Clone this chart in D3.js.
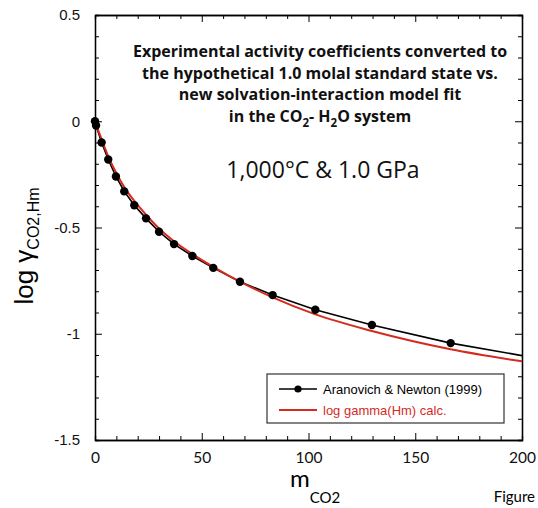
<!DOCTYPE html>
<html>
<head>
<meta charset="utf-8">
<script src="https://cdn.jsdelivr.net/npm/d3@7"></script>
<style>
  body { margin: 0; background: #fff; }
  svg { display: block; }
</style>
</head>
<body>
<svg width="538" height="508"></svg>
<script>
// Aranovich & Newton (1999), converted to 1.0 molal standard state
var anM   = [0, 0.5, 3.1, 6.2, 9.8, 13.7, 18.4, 23.9, 30, 37, 45.6, 55.4, 67.9, 83.2, 103.2, 129.7, 166.6];
var anLog = [0, -0.02, -0.10, -0.18, -0.26, -0.33, -0.395, -0.457, -0.52, -0.578, -0.634, -0.69, -0.755, -0.818, -0.887, -0.959, -1.044];
// black line carries on past the last point to the frame edge
var anLineEnd = [200, -1.103];

// model curve, log gamma(Hm) calc.
var calcM   = [0, 0.5, 3.1, 6.2, 9.8, 13.7, 18.4, 23.9, 30, 37, 45.6, 55.4, 67.9, 83.2, 103.2, 129.7, 166.6, 200];
var calcLog = [0, -0.015, -0.085, -0.165, -0.24, -0.31, -0.375, -0.44, -0.505, -0.565, -0.625, -0.685, -0.755, -0.829, -0.909, -0.987, -1.073, -1.13];

var xTicks = [0, 50, 100, 150, 200];
var yTicks = [0.5, 0, -0.5, -1, -1.5];
var titleLines = ["Experimental activity coefficients converted to",
                  "the hypothetical 1.0 molal standard state vs.",
                  "new solvation-interaction model fit"];
var legendLabels = ["Aranovich & Newton (1999)", "log gamma(Hm) calc."];

var red = "#d52b1e";

var svg = d3.select("svg"),
    margin = {top: 15, right: 16, bottom: 68, left: 95},
    width = +svg.attr("width") - margin.left - margin.right,
    height = +svg.attr("height") - margin.top - margin.bottom,
    g = svg.append("g").attr("transform", "translate(" + margin.left + "," + margin.top + ")");

var x = d3.scaleLinear().domain([0, 200]).range([0, width]);
var y = d3.scaleLinear().domain([-1.5, 0.5]).range([height, 0]);

var minorX = d3.range(0, 201, 10).filter(function(d) { return d % 50 !== 0; });
var minorY = d3.range(-15, 6, 1).map(function(d) { return d / 10; })
               .filter(function(d) { return Math.round(d * 10) % 5 !== 0; });

function styleAxis(sel) {
  sel.selectAll("path").attr("stroke", "#000").attr("stroke-width", 1.3);
  sel.selectAll("line").attr("stroke", "#000").attr("stroke-width", 1);
}

// minor ticks on all four sides
g.append("g").attr("transform", "translate(0," + height + ")")
  .call(d3.axisBottom(x).tickValues(minorX).tickSize(-4).tickFormat(""))
  .call(styleAxis);
g.append("g")
  .call(d3.axisTop(x).tickValues(minorX).tickSize(-4).tickFormat(""))
  .call(styleAxis);
g.append("g")
  .call(d3.axisLeft(y).tickValues(minorY).tickSize(-4).tickFormat(""))
  .call(styleAxis);
g.append("g").attr("transform", "translate(" + width + ",0)")
  .call(d3.axisRight(y).tickValues(minorY).tickSize(-4).tickFormat(""))
  .call(styleAxis);

// major ticks
var xAxis = g.append("g").attr("transform", "translate(0," + height + ")")
  .call(d3.axisBottom(x).tickValues(xTicks).tickSize(-7).tickSizeOuter(0).tickPadding(12))
  .call(styleAxis);
xAxis.selectAll("text").attr("font-family", "Lato, sans-serif").attr("font-size", 15.5).attr("fill", "#111");

var yAxis = g.append("g")
  .call(d3.axisLeft(y).tickValues(yTicks).tickSize(-7).tickSizeOuter(0).tickPadding(15)
        .tickFormat(function(d) { return d === 0 ? "0" : String(d); }))
  .call(styleAxis);
yAxis.selectAll("text").attr("font-family", "'Liberation Sans', Arial, sans-serif").attr("font-size", 15).attr("fill", "#111");

g.append("g")
  .call(d3.axisTop(x).tickValues(xTicks).tickSize(-7).tickSizeOuter(0).tickFormat(""))
  .call(styleAxis);
g.append("g").attr("transform", "translate(" + width + ",0)")
  .call(d3.axisRight(y).tickValues(yTicks).tickSize(-7).tickSizeOuter(0).tickFormat(""))
  .call(styleAxis);

// clip
g.append("clipPath").attr("id", "plotclip")
  .append("rect").attr("width", width).attr("height", height);

var plot = g.append("g").attr("clip-path", "url(#plotclip)");

var calcData = calcM.map(function(m, i) { return [m, calcLog[i]]; });
var anData = anM.map(function(m, i) { return [m, anLog[i]]; });

var line = d3.line()
  .x(function(d) { return x(d[0]); })
  .y(function(d) { return y(d[1]); });

plot.append("path")
  .datum(anData.concat([anLineEnd]))
  .attr("fill", "none")
  .attr("stroke", "#000")
  .attr("stroke-width", 1.6)
  .attr("d", line);

plot.append("path")
  .datum(calcData)
  .attr("fill", "none")
  .attr("stroke", red)
  .attr("stroke-width", 2)
  .attr("d", line.curve(d3.curveMonotoneX));

g.selectAll(".dot")
  .data(anData)
  .enter().append("circle")
  .attr("class", "dot")
  .attr("cx", function(d) { return x(d[0]); })
  .attr("cy", function(d) { return y(d[1]); })
  .attr("r", 4.2)
  .attr("fill", "#000");

// title
var titleFont = "'Open Sans', sans-serif";
var title = svg.append("text")
  .attr("font-family", titleFont)
  .attr("font-weight", "bold")
  .attr("font-size", 16)
  .attr("text-anchor", "middle")
  .attr("fill", "#111");
titleLines.forEach(function(t, i) {
  title.append("tspan").attr("x", 320).attr("y", 57 + i * 21.7).text(t);
});
var sys = svg.append("text")
  .attr("font-family", titleFont)
  .attr("font-weight", "bold")
  .attr("font-size", 16)
  .attr("text-anchor", "middle")
  .attr("fill", "#111")
  .attr("x", 320).attr("y", 57 + 3 * 21.7);
sys.append("tspan").text("in the CO");
sys.append("tspan").attr("font-size", 11.5).attr("dy", 5).text("2");
sys.append("tspan").attr("dy", -5).text("- H");
sys.append("tspan").attr("font-size", 11.5).attr("dy", 5).text("2");
sys.append("tspan").attr("dy", -5).text("O system");

svg.append("text")
  .attr("x", 323).attr("y", 178)
  .attr("text-anchor", "middle")
  .attr("font-family", titleFont)
  .attr("font-size", 23)
  .attr("fill", "#111")
  .text("1,000°C & 1.0 GPa");

// axis titles
var yt = svg.append("text")
  .attr("transform", "translate(33,246) rotate(-90)")
  .attr("text-anchor", "middle")
  .attr("font-family", "'Liberation Sans', Arial, sans-serif")
  .attr("fill", "#000");
yt.append("tspan").attr("font-size", 26).text("log γ");
yt.append("tspan").attr("font-size", 16).attr("dy", 6).text("CO2,Hm");

var xt = svg.append("text")
  .attr("x", 290).attr("y", 487)
  .attr("font-family", "Lato, sans-serif")
  .attr("fill", "#000");
xt.append("tspan").attr("font-size", 24).text("m");
xt.append("tspan").attr("font-size", 15).attr("dy", 16).text("CO2");

svg.append("text")
  .attr("x", 535).attr("y", 502)
  .attr("text-anchor", "end")
  .attr("font-family", "Lato, sans-serif")
  .attr("font-size", 15)
  .attr("fill", "#000")
  .text("Figure");

// legend
var legend = svg.append("g").attr("transform", "translate(267,374)");
legend.append("rect")
  .attr("width", 237).attr("height", 49)
  .attr("fill", "#fff").attr("stroke", "#333").attr("stroke-width", 1.2);
[["#000", true], [red, false]].forEach(function(s, i) {
  var ly = 15 + i * 21;
  legend.append("line")
    .attr("x1", 12).attr("x2", 50).attr("y1", ly).attr("y2", ly)
    .attr("stroke", s[0]).attr("stroke-width", s[1] ? 1.6 : 2);
  if (s[1]) legend.append("circle").attr("cx", 31).attr("cy", ly).attr("r", 3.6).attr("fill", "#000");
  legend.append("text")
    .attr("x", 56).attr("y", ly + 5)
    .attr("font-family", "'Liberation Sans', Arial, sans-serif")
    .attr("font-size", 13)
    .attr("fill", s[0])
    .text(legendLabels[i]);
});
</script>
</body>
</html>
